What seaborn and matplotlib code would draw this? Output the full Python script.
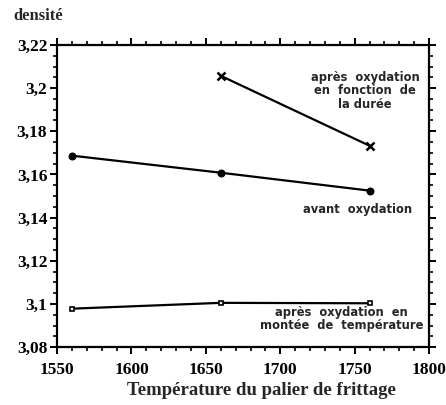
import matplotlib
matplotlib.use("Agg")
import matplotlib.pyplot as plt
import seaborn as sns
import pandas as pd
from matplotlib.ticker import MultipleLocator, FuncFormatter

# Data
temp_avant = [1560, 1660, 1760]
dens_avant = [3.1687, 3.1608, 3.1525]
temp_duree = [1660, 1760]
dens_duree = [3.2057, 3.1733]
temp_montee = [1560, 1660, 1760]
dens_montee = [3.0978, 3.1005, 3.1003]

x_label = "Température du palier de frittage"
y_label = "densité"
lab_duree = "après  oxydation\nen  fonction  de\nla durée"
lab_avant = "avant  oxydation"
lab_montee = "après  oxydation  en\nmontée  de  température"

sns.set_style("ticks")
plt.rcParams['font.family'] = ['Liberation Serif', 'DejaVu Serif']

fig = plt.figure(figsize=(4.46, 4.05), dpi=100)
ax = fig.add_axes([0.128, 0.143, 0.834, 0.746])

df_a = pd.DataFrame({"t": temp_avant, "d": dens_avant})
df_d = pd.DataFrame({"t": temp_duree, "d": dens_duree})
df_m = pd.DataFrame({"t": temp_montee, "d": dens_montee})

sns.lineplot(data=df_a, x="t", y="d", ax=ax, color="black", lw=1.6,
             marker="o", markersize=5, markeredgecolor="black")
sns.lineplot(data=df_d, x="t", y="d", ax=ax, color="black", lw=1.6,
             marker="x", markersize=6, markeredgewidth=1.8, markeredgecolor="black")
sns.lineplot(data=df_m, x="t", y="d", ax=ax, color="black", lw=1.6,
             marker="s", markersize=3.5, markerfacecolor="white",
             markeredgecolor="black", markeredgewidth=1.2)

ax.set_xlim(1550, 1800)
ax.set_ylim(3.08, 3.22)
ax.xaxis.set_major_locator(MultipleLocator(50))
ax.xaxis.set_minor_locator(MultipleLocator(10))
ax.yaxis.set_major_locator(MultipleLocator(0.02))
ax.yaxis.set_minor_locator(MultipleLocator(0.005))
ax.yaxis.set_major_formatter(FuncFormatter(lambda v, p: f"{round(v, 3):g}".replace('.', ',')))
ax.xaxis.set_major_formatter(FuncFormatter(lambda v, p: f"{int(round(v))}"))

for s in ax.spines.values():
    s.set_visible(True)
    s.set_linewidth(1.6)
    s.set_color("black")

ax.tick_params(which="both", direction="out", top=True, right=True, colors="black")
ax.tick_params(which="major", length=5, width=1.4, labelsize=12.5)
ax.tick_params(axis="x", which="major", pad=6)
ax.tick_params(axis="y", which="major", pad=2)
ax.tick_params(which="minor", length=3, width=1.2)
for lab in ax.get_xticklabels() + ax.get_yticklabels():
    lab.set_fontweight("bold")

ax.set_xlabel(x_label, fontsize=13.5, fontweight="bold")
ax.xaxis.set_label_coords(0.55, -0.115)
ax.set_ylabel("")
fig.text(0.03, 0.96, y_label, fontsize=12, fontweight="bold", ha="left", va="center")

sans = ['DejaVu Sans']
ax.text(1757, 3.1987, lab_duree, fontsize=8.3, fontweight="bold", family=sans,
        ha="center", va="center", linespacing=1.05)
ax.text(1752, 3.1438, lab_avant, fontsize=8.3, fontweight="bold", family=sans,
        ha="center", va="center")
ax.text(1741, 3.0928, lab_montee, fontsize=8.3, fontweight="bold", family=sans,
        ha="center", va="center", linespacing=1.0)

fig.savefig("out.png", dpi=100)
